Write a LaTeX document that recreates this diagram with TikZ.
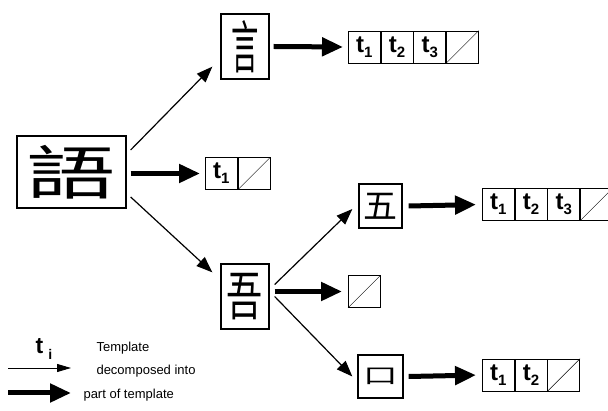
\documentclass[tikz,border=0pt]{standalone}
\usepackage{fontspec}
\setmainfont{Liberation Sans}
\newfontfamily\cjk{Noto Sans CJK SC}
\usetikzlibrary{arrows.meta,positioning}

\tikzset{
    glyph/.style={draw,line width=1.3pt,inner sep=0pt},
    cell/.style={draw,line width=0.7pt,minimum width=32pt,minimum height=32pt,inner sep=0pt,anchor=west},
    thinarrow/.style={line width=1.2pt,-{Triangle[length=16pt,width=12pt]}},
    thickarrow/.style={line width=5pt,-{Triangle[length=21pt,width=18pt]}},
}
\newcommand{\tsub}[1]{\fontsize{24}{24}\selectfont\bfseries t\raisebox{-5pt}{\fontsize{15}{15}\selectfont #1}\hspace{1pt}}

\begin{document}
\begin{tikzpicture}[x=1pt,y=-1pt]
    \useasboundingbox (0,0) rectangle (608,411);
    % glyph boxes
    \node[glyph,minimum width=109pt,minimum height=72pt] (lang) at (71.5,172) {\cjk\fontsize{54}{54}\selectfont\scalebox{1.65}[1.08]{語}};
    \node[glyph,minimum width=48pt,minimum height=65pt] (yan) at (245,46.5) {\cjk\fontsize{38}{38}\selectfont\scalebox{0.72}[1.5]{言}};
    \node[glyph,minimum width=48pt,minimum height=65pt] (wu) at (245,296.5) {\cjk\fontsize{38}{38}\selectfont\scalebox{0.95}[1.38]{吾}};
    \node[glyph,minimum width=43pt,minimum height=44pt] (five) at (380.5,206) {\cjk\fontsize{34}{34}\selectfont 五};
    \node[glyph,minimum width=45pt,minimum height=43pt] (kou) at (380.5,376.5) {\cjk\fontsize{30}{30}\selectfont\scalebox{1.15}[0.7]{口}};
    % template cells
    \node[cell] (r1a) at (348,47) {\tsub{1}};
    \node[cell,right=0pt of r1a] (r1b) {\tsub{2}};
    \node[cell,right=0pt of r1b] (r1c) {\tsub{3}};
    \node[cell,right=0pt of r1c] (r1d) {};
    \draw (r1d.south west) -- (r1d.north east);
    \node[cell] (r2a) at (205,173.5) {\tsub{1}};
    \node[cell,right=0pt of r2a] (r2b) {};
    \draw (r2b.south west) -- (r2b.north east);
    \node[cell] (r3a) at (482,204.5) {\tsub{1}};
    \node[cell,right=0pt of r3a] (r3b) {\tsub{2}};
    \node[cell,right=0pt of r3b] (r3c) {\tsub{3}};
    \node[cell,right=0pt of r3c] (r3d) {};
    \draw (r3d.south west) -- (r3d.north east);
    \node[cell] (r4a) at (348,291.5) {};
    \draw (r4a.south west) -- (r4a.north east);
    \node[cell] (r5a) at (482,375) {\tsub{1}};
    \node[cell,right=0pt of r5a] (r5b) {\tsub{2}};
    \node[cell,right=0pt of r5b] (r5c) {};
    \draw (r5c.south west) -- (r5c.north east);
    % arrows
    \draw[thinarrow] ([shift={(4,-22)}]lang.east) -- ([shift={(-8,-13)}]yan.south west);
    \draw[thickarrow,shorten >=5pt] ([xshift=4pt]lang.east |- r2a.west) -- (r2a.west);
    \draw[thinarrow] ([shift={(4,25)}]lang.east) -- ([shift={(-8,9)}]wu.north west);
    \draw[thickarrow,shorten >=5pt] ([xshift=4pt]yan.east) -- (r1a.west);
    \draw[thinarrow] ([shift={(5,-12)}]wu.east) -- ([shift={(-6,3)}]five.west);
    \draw[thickarrow,shorten >=6pt] ([xshift=5pt]wu.east |- r4a.west) -- (r4a.west);
    \draw[thinarrow] ([shift={(5,0)}]wu.east) -- ([xshift=-5pt]kou.west);
    \draw[thickarrow,shorten >=6pt] ([xshift=6pt]five.east) -- (r3a.west);
    \draw[thickarrow,shorten >=6pt] ([xshift=5pt]kou.east) -- (r5a.west);
    % legend
    \node (ti) at (44,349) {\fontsize{23}{23}\selectfont\bfseries t\hspace{5pt}\raisebox{-6pt}{\fontsize{14}{14}\selectfont i}};
    \node[anchor=west,font=\fontsize{13}{13}\selectfont] (tpl) at (93,348) {Template};
    \coordinate (la) at (8,368);
    \coordinate (lb) at (71,368);
    \draw[line width=0.9pt,-{Triangle[length=14pt,width=8pt]}] (la) -- (lb);
    \node[anchor=west,font=\fontsize{13}{13}\selectfont] (dec) at (93,371) {decomposed into};
    \coordinate (lc) at (8,393);
    \coordinate (ld) at (71,393);
    \draw[thickarrow] (lc) -- (ld);
    \node[anchor=west,font=\fontsize{13}{13}\selectfont] (part) at (80,395) {part of template};
\end{tikzpicture}
\end{document}
